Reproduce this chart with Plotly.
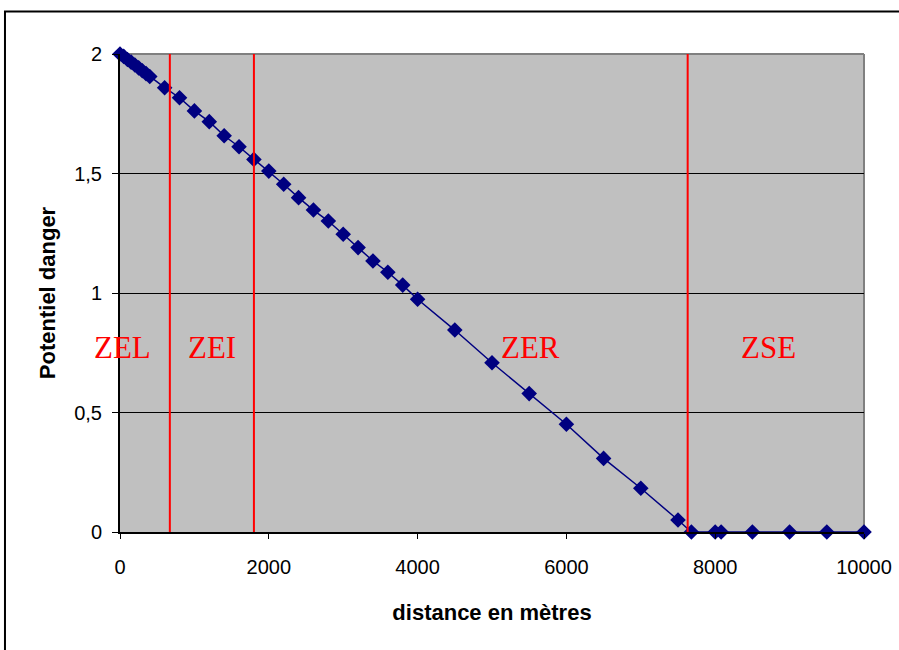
import plotly.graph_objects as go

# Data
distance = [0, 50, 100, 150, 200, 250, 300, 350, 400, 600, 800, 1000, 1200, 1400, 1600, 1800,
            2000, 2200, 2400, 2600, 2800, 3000, 3200, 3400, 3600, 3800, 4000, 4500, 5000,
            5500, 6000, 6500, 7000, 7500, 7680, 8000, 8080, 8500, 9000, 9500, 10000]
potentiel = [2.0, 1.99, 1.977, 1.966, 1.954, 1.942, 1.93, 1.918, 1.906, 1.859, 1.817, 1.762, 1.717,
             1.658, 1.612, 1.559, 1.510, 1.455, 1.399, 1.347, 1.301, 1.246, 1.190, 1.134, 1.087,
             1.033, 0.974, 0.845, 0.708, 0.579, 0.451, 0.308, 0.183, 0.050, 0.0, 0.0, 0.0, 0.0,
             0.0, 0.0, 0.0]

zone_limits = [670, 1800, 7630]
zone_names = ["ZEL", "ZEI", "ZER", "ZSE"]
zone_label_x = [27, 1237, 5511, 8723]
zone_label_y = 0.77

x_ticks = [0, 2000, 4000, 6000, 8000, 10000]
x_tick_text = ["0", "2000", "4000", "6000", "8000", "10000"]
y_ticks = [0, 0.5, 1, 1.5, 2]
y_tick_text = ["0", "0,5", "1", "1,5", "2"]

fig = go.Figure()
fig.add_trace(go.Scatter(
    x=distance, y=potentiel, mode="lines+markers",
    line=dict(color="#000080", width=1.5),
    marker=dict(symbol="diamond", size=12, color="#000080"),
    showlegend=False, cliponaxis=False,
))

shapes = []
for xl in zone_limits:
    shapes.append(dict(type="line", xref="x", yref="y", x0=xl, x1=xl, y0=0, y1=2,
                       line=dict(color="#FF0000", width=2), layer="above"))
# top and right plot-area border (gray)
shapes.append(dict(type="line", xref="paper", yref="paper", x0=0, x1=1, y0=1, y1=1,
                   line=dict(color="#808080", width=2), layer="below"))
shapes.append(dict(type="line", xref="paper", yref="paper", x0=1, x1=1, y0=0, y1=1,
                   line=dict(color="#808080", width=2), layer="below"))
# outer chart frame
shapes.append(dict(type="rect", xref="paper", yref="paper", x0=-0.1546, x1=1.2, y0=-0.4, y1=1.089,
                   line=dict(color="black", width=2), fillcolor="rgba(0,0,0,0)", layer="below"))

annotations = []
for name, xl in zip(zone_names, zone_label_x):
    annotations.append(dict(x=xl, y=zone_label_y, xref="x", yref="y", text=name, showarrow=False,
                            font=dict(family="Liberation Serif, Times New Roman, serif", size=31,
                                      color="#FF0000")))

fig.update_layout(
    width=899, height=650,
    margin=dict(l=120, r=35, t=54, b=118),
    paper_bgcolor="white", plot_bgcolor="#C0C0C0",
    separators=", ",
    shapes=shapes, annotations=annotations,
    font=dict(family="Liberation Sans, Arial, sans-serif", color="black"),
    xaxis=dict(range=[0, 10000], tickvals=x_ticks, ticktext=x_tick_text, ticks="outside",
               ticklen=5, tickcolor="black", automargin=False,
               showgrid=False, zeroline=False, showline=True, linecolor="black", linewidth=2,
               tickfont=dict(size=20), ticklabelstandoff=11,
               title=dict(text="<b>distance en mètres</b>", font=dict(size=22), standoff=28)),
    yaxis=dict(range=[0, 2], tickvals=y_ticks, ticktext=y_tick_text, ticks="outside", ticklen=6,
               tickcolor="black", showgrid=True, gridcolor="black", gridwidth=1, zeroline=False,
               showline=True, linecolor="black", linewidth=2, automargin=False,
               tickfont=dict(size=20), ticklabelstandoff=6,
               title=dict(text="<b>Potentiel danger</b>", font=dict(size=22), standoff=12)),
)

fig.write_html("out.html", config={"displayModeBar": False},
               post_script="document.body.style.margin='0';")
